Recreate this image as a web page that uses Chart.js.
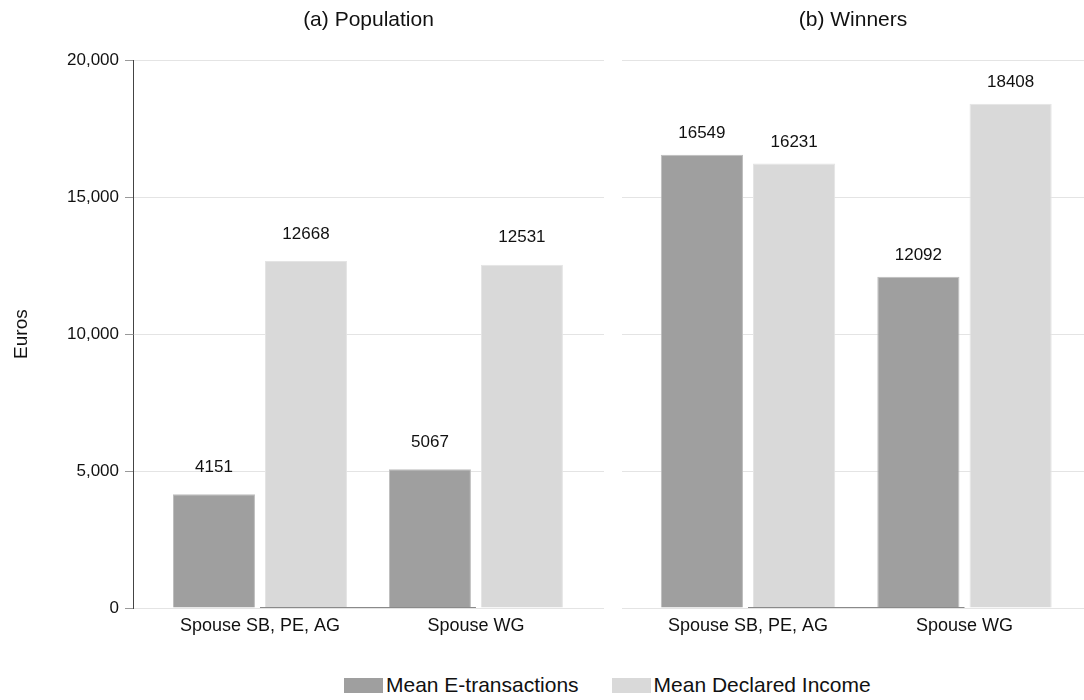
<!DOCTYPE html>
<html>
<head>
<meta charset="utf-8">
<script src="https://cdn.jsdelivr.net/npm/chart.js@4.4.1/dist/chart.umd.min.js"></script>
<style>
  html, body { margin: 0; padding: 0; background: #fff; }
  body { width: 1084px; height: 700px; position: relative; overflow: hidden; font-family: "Liberation Sans", Arial, sans-serif; color: #111; }
  canvas { position: absolute; top: 0; }
  #left { left: 0; }
  #right { left: 622px; }
  .legend { position: absolute; top: 675px; left: 344px; display: flex; align-items: center; font-size: 21px; line-height: 20px; white-space: nowrap; }
  .legend .sw { display: inline-block; width: 39px; height: 15px; margin-right: 3px; }
  .legend .item { display: flex; align-items: center; margin-right: 33px; }
</style>
</head>
<body>
<canvas id="left" width="612" height="638"></canvas>
<canvas id="right" width="462" height="638"></canvas>
<div class="legend" id="legend"></div>

<script>
const categories   = ['Spouse SB, PE, AG', 'Spouse WG'];
const seriesNames  = ['Mean E-transactions', 'Mean Declared Income'];
const popETrans    = [4151, 5067];
const popIncome    = [12668, 12531];
const winETrans    = [16549, 12092];
const winIncome    = [16231, 18408];
const baseline     = [0, 0];
const yTicks       = [0, 5000, 10000, 15000, 20000];

const FONT = '"Liberation Sans", Arial, Helvetica, sans-serif';
const DARK = '#9f9f9f';
const LIGHT = '#d9d9d9';
const COLORS = [DARK, LIGHT];
const EDGES = ['#bdbdbd', '#e4e4e4'];

// numbers above bars
const valueLabels = {
  id: 'valueLabels',
  afterDatasetsDraw(chart, args, opts) {
    const ctx = chart.ctx;
    ctx.save();
    ctx.font = '17px ' + FONT;
    ctx.fillStyle = '#111';
    ctx.textAlign = 'center';
    ctx.textBaseline = 'middle';
    chart.data.datasets.forEach((ds, i) => {
      if (ds.type === 'line') return;
      chart.getDatasetMeta(i).data.forEach((bar, j) => {
        ctx.fillText(String(ds.data[j].y), bar.x, bar.y - opts.offset);
      });
    });
    ctx.restore();
  }
};

function points(vals) {
  return vals.map((v, i) => ({ x: i + 1, y: v }));
}

function makePanel(id, title, eVals, iVals, cfg) {
  const yAxis = cfg.first ? {
    min: 0, max: 20000,
    afterBuildTicks: (s) => { s.ticks = yTicks.map((v) => ({ value: v })); },
    ticks: { color: '#111', font: { size: 17, family: FONT }, padding: 6,
             callback: (v) => v.toLocaleString('en-US') },
    grid: { color: '#e4e4e4', tickColor: '#999', tickLength: 8, lineWidth: 1 },
    border: { display: true, color: '#444', width: 1 },
    title: { display: true, text: 'Euros', color: '#111', font: { size: 19, family: FONT }, padding: { top: 10, bottom: 0 } },
    afterFit: (s) => { s.width = 133; },
  } : {
    min: 0, max: 20000,
    afterBuildTicks: (s) => { s.ticks = yTicks.map((v) => ({ value: v })); },
    ticks: { display: false },
    grid: { color: '#e4e4e4', drawTicks: false, lineWidth: 1 },
    border: { display: false },
    afterFit: (s) => { s.width = 0; },
  };

  return new Chart(document.getElementById(id), {
    type: 'bar',
    data: {
      datasets: [
        { label: seriesNames[0], data: points(eVals), backgroundColor: COLORS[0], borderColor: EDGES[0], borderWidth: 1, order: 2 },
        { label: seriesNames[1], data: points(iVals), backgroundColor: COLORS[1], borderColor: EDGES[1], borderWidth: 1, order: 2 },
        { type: 'line', label: 'base', data: points(baseline), borderColor: '#8a8a8a', borderWidth: 2, pointRadius: 0, order: 0 },
      ],
    },
    options: {
      responsive: false,
      animation: false,
      devicePixelRatio: 1,
      layout: { padding: { left: 0, right: cfg.padRight, top: 0, bottom: 0 } },
      datasets: { bar: { categoryPercentage: 0.852, barPercentage: 0.891 } },
      plugins: {
        legend: { display: false },
        tooltip: { enabled: false },
        title: { display: true, text: title, fullSize: false, color: '#111',
                 font: { size: 21, weight: 'normal', family: FONT }, padding: { top: 8, bottom: 27 } },
        valueLabels: { offset: cfg.labelOffset },
      },
      scales: {
        x: {
          type: 'linear', min: cfg.xMin, max: cfg.xMax, offset: false,
          afterBuildTicks: (s) => { s.ticks = categories.map((c, i) => ({ value: i + 1 })); },
          ticks: { color: '#111', font: { size: 18, family: FONT }, padding: 7, autoSkip: false, maxRotation: 0,
                   callback: (v) => categories[v - 1] },
          grid: { display: false, drawTicks: false, offset: false },
          border: { display: false },
          afterFit: (s) => { s.height = 30; },
        },
        y: yAxis,
      },
    },
    plugins: [valueLabels],
  });
}

makePanel('left', '(a) Population', popETrans, popIncome,
  { first: true, padRight: 8, xMin: 0.412, xMax: 2.593, labelOffset: 27 });
makePanel('right', '(b) Winners', winETrans, winIncome,
  { first: false, padRight: 0, xMin: 0.418, xMax: 2.552, labelOffset: 21.5 });

document.getElementById('legend').innerHTML = seriesNames.map((n, i) => `
  <span class="item"><span class="sw" style="background:${COLORS[i]};"></span>${n}</span>
`).join('');
</script>
</body>
</html>
